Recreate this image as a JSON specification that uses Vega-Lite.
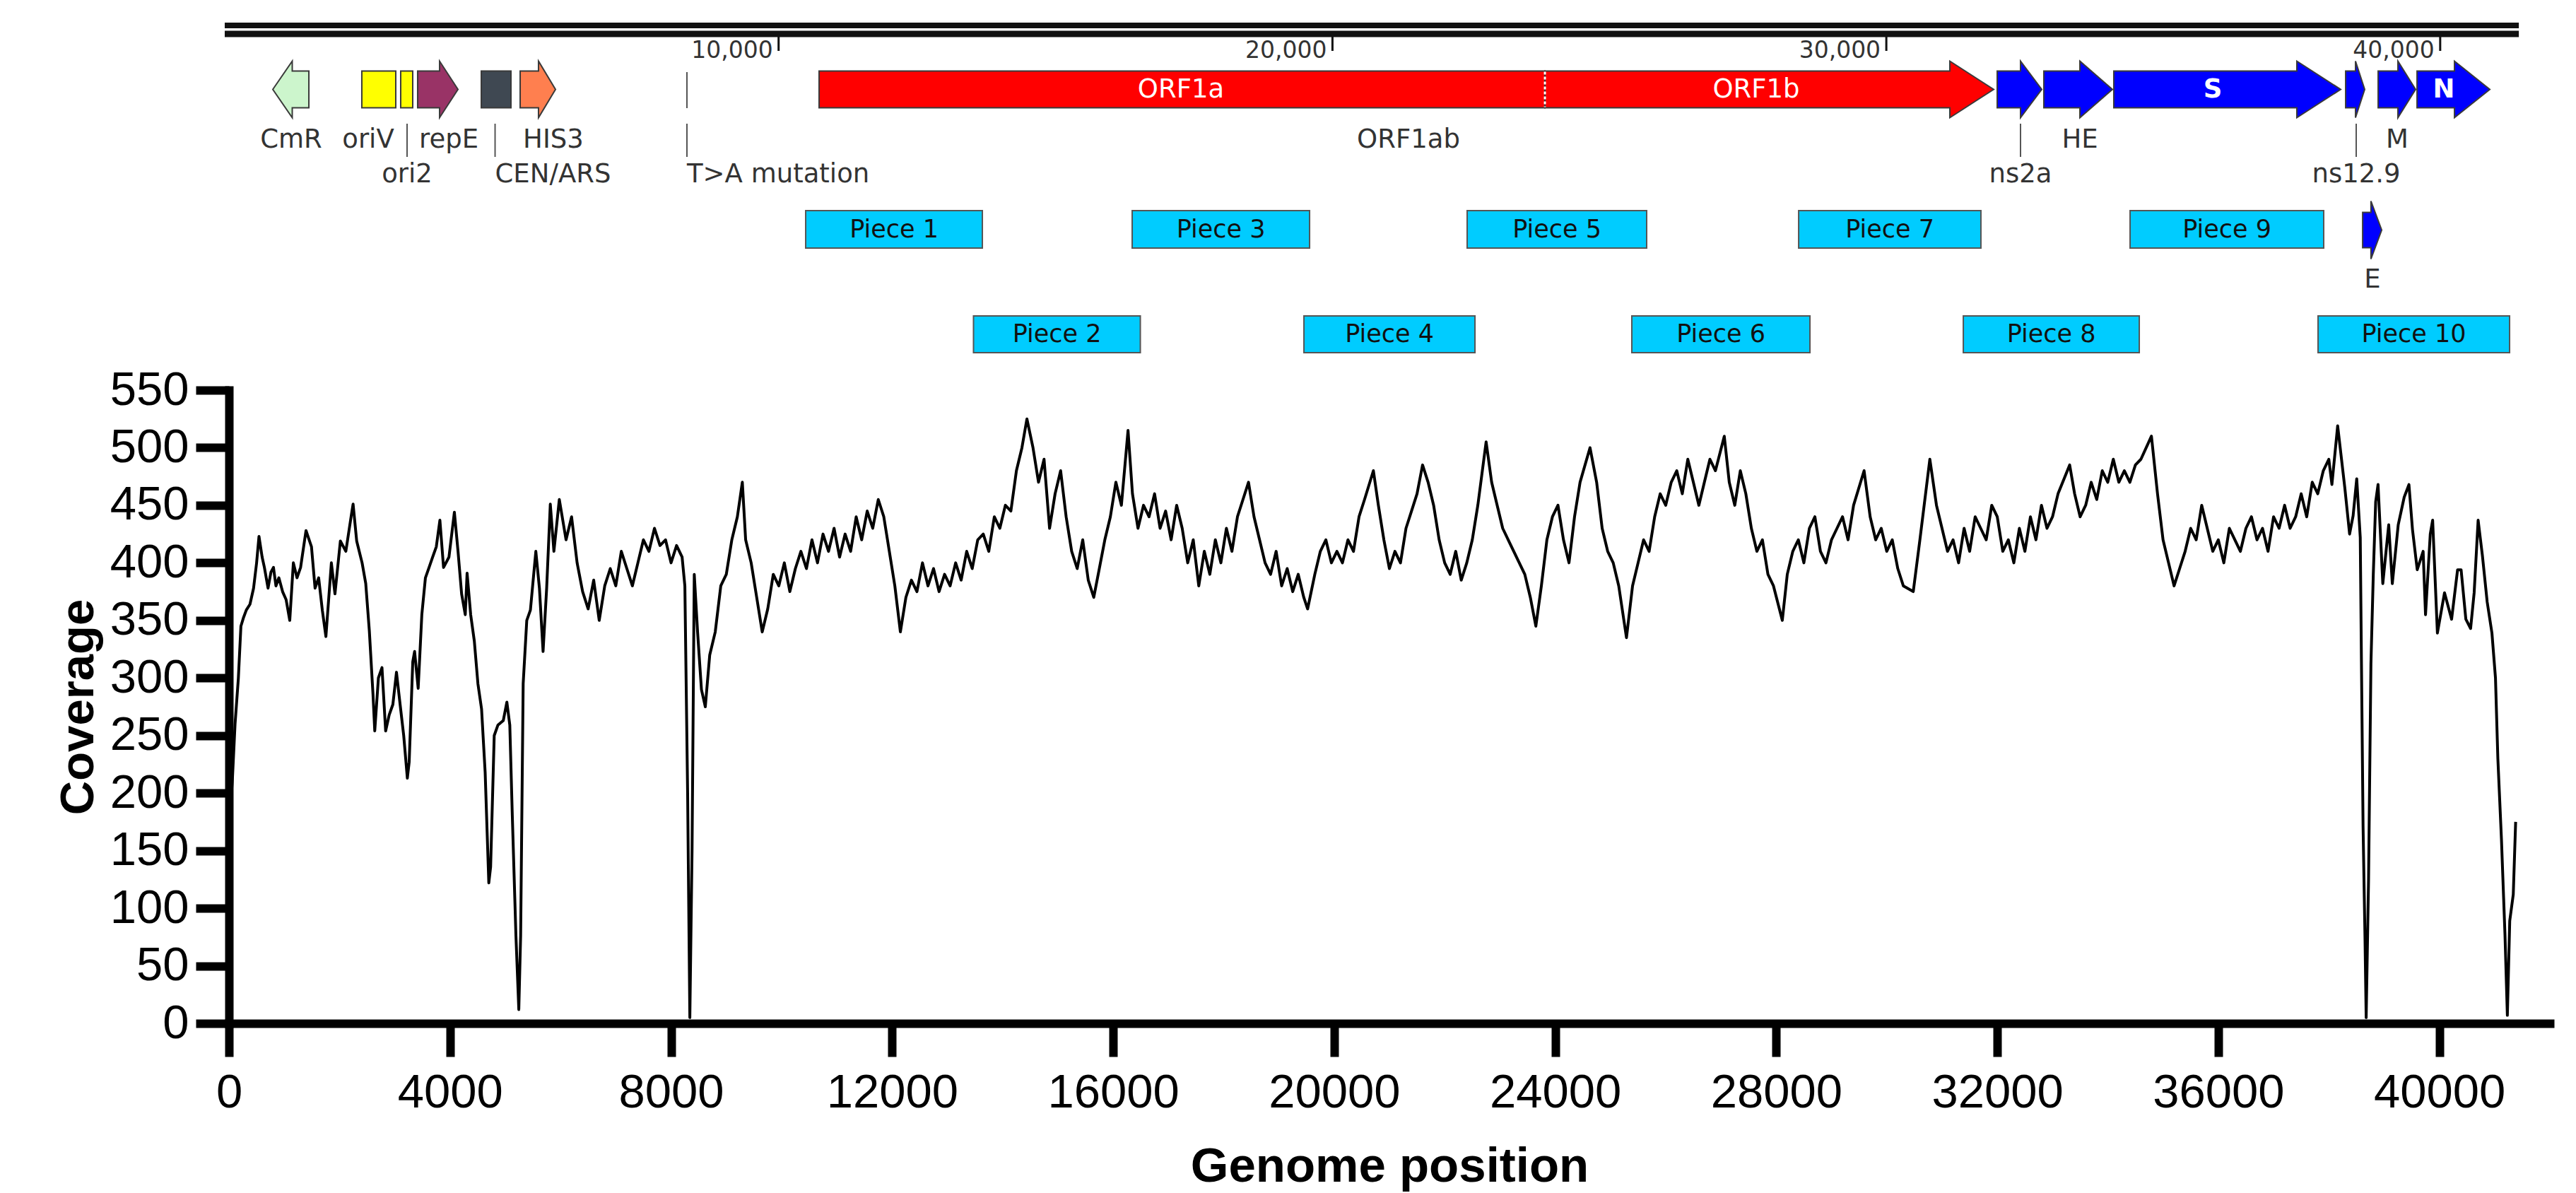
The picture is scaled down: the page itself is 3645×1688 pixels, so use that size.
{
  "$schema": "https://vega.github.io/schema/vega-lite/v6.json",
  "width": 3284,
  "height": 896,
  "autosize": {"type": "none"},
  "padding": {"left": 324, "top": 552, "right": 37, "bottom": 240},
  "background": "white",
  "config": {"view": {"stroke": null}, "font": "Liberation Sans"},
  "datasets": {
    "coverage": [
      {"position":0,"coverage":172},{"position":60,"coverage":210},{"position":110,"coverage":260},{"position":170,"coverage":300},{"position":216,"coverage":345},{"position":260,"coverage":352},{"position":314,"coverage":359},{"position":380,"coverage":364},{"position":445,"coverage":378},{"position":500,"coverage":400},{"position":543,"coverage":423},{"position":600,"coverage":405},{"position":641,"coverage":396},{"position":707,"coverage":378},{"position":760,"coverage":392},{"position":805,"coverage":396},{"position":850,"coverage":380},{"position":903,"coverage":387},{"position":970,"coverage":375},{"position":1034,"coverage":368},{"position":1100,"coverage":350},{"position":1165,"coverage":400},{"position":1231,"coverage":387},{"position":1296,"coverage":396},{"position":1394,"coverage":428},{"position":1493,"coverage":414},{"position":1558,"coverage":378},{"position":1623,"coverage":387},{"position":1689,"coverage":359},{"position":1754,"coverage":336},{"position":1853,"coverage":400},{"position":1918,"coverage":373},{"position":2016,"coverage":419},{"position":2115,"coverage":410},{"position":2213,"coverage":441},{"position":2246,"coverage":451},{"position":2311,"coverage":419},{"position":2409,"coverage":400},{"position":2475,"coverage":382},{"position":2540,"coverage":341},{"position":2606,"coverage":286},{"position":2638,"coverage":254},{"position":2704,"coverage":300},{"position":2769,"coverage":309},{"position":2835,"coverage":254},{"position":2900,"coverage":268},{"position":2966,"coverage":277},{"position":3031,"coverage":305},{"position":3097,"coverage":277},{"position":3162,"coverage":250},{"position":3228,"coverage":213},{"position":3261,"coverage":227},{"position":3326,"coverage":314},{"position":3359,"coverage":323},{"position":3424,"coverage":291},{"position":3490,"coverage":355},{"position":3555,"coverage":387},{"position":3621,"coverage":396},{"position":3686,"coverage":405},{"position":3752,"coverage":414},{"position":3817,"coverage":437},{"position":3883,"coverage":396},{"position":3981,"coverage":405},{"position":4079,"coverage":444},{"position":4145,"coverage":410},{"position":4210,"coverage":373},{"position":4276,"coverage":355},{"position":4309,"coverage":391},{"position":4374,"coverage":355},{"position":4440,"coverage":332},{"position":4505,"coverage":295},{"position":4571,"coverage":273},{"position":4636,"coverage":218},{"position":4702,"coverage":122},{"position":4735,"coverage":136},{"position":4800,"coverage":250},{"position":4866,"coverage":259},{"position":4964,"coverage":263},{"position":5029,"coverage":279},{"position":5082,"coverage":259},{"position":5127,"coverage":181},{"position":5193,"coverage":76},{"position":5245,"coverage":12},{"position":5278,"coverage":76},{"position":5324,"coverage":295},{"position":5389,"coverage":350},{"position":5455,"coverage":359},{"position":5553,"coverage":410},{"position":5618,"coverage":378},{"position":5684,"coverage":323},{"position":5749,"coverage":378},{"position":5815,"coverage":451},{"position":5880,"coverage":410},{"position":5978,"coverage":455},
      {"position":6100,"coverage":420},{"position":6200,"coverage":440},{"position":6300,"coverage":400},{"position":6400,"coverage":375},{"position":6500,"coverage":360},{"position":6600,"coverage":385},{"position":6700,"coverage":350},{"position":6800,"coverage":380},{"position":6900,"coverage":395},{"position":7000,"coverage":380},{"position":7100,"coverage":410},{"position":7200,"coverage":395},{"position":7300,"coverage":380},{"position":7400,"coverage":400},{"position":7500,"coverage":420},{"position":7600,"coverage":410},{"position":7700,"coverage":430},{"position":7800,"coverage":415},{"position":7900,"coverage":420},{"position":8000,"coverage":400},{"position":8100,"coverage":415},{"position":8200,"coverage":405},{"position":8250,"coverage":380},{"position":8300,"coverage":200},{"position":8340,"coverage":5},{"position":8380,"coverage":150},{"position":8420,"coverage":390},{"position":8480,"coverage":340},{"position":8550,"coverage":290},{"position":8620,"coverage":275},{"position":8700,"coverage":320},{"position":8800,"coverage":340},{"position":8900,"coverage":380},{"position":9000,"coverage":390},{"position":9100,"coverage":420},{"position":9200,"coverage":440},{"position":9290,"coverage":470},{"position":9350,"coverage":420},{"position":9450,"coverage":400},{"position":9550,"coverage":370},{"position":9650,"coverage":340},{"position":9750,"coverage":360},{"position":9850,"coverage":390},{"position":9950,"coverage":380},{"position":10050,"coverage":400},{"position":10150,"coverage":375},{"position":10250,"coverage":395},{"position":10350,"coverage":410},{"position":10450,"coverage":395},{"position":10550,"coverage":420},{"position":10650,"coverage":400},{"position":10750,"coverage":425},{"position":10850,"coverage":410},{"position":10950,"coverage":430},{"position":11050,"coverage":405},{"position":11150,"coverage":425},{"position":11250,"coverage":410},{"position":11350,"coverage":440},{"position":11450,"coverage":420},{"position":11550,"coverage":445},{"position":11650,"coverage":430},{"position":11750,"coverage":455},{"position":11850,"coverage":440},{"position":11950,"coverage":410},{"position":12050,"coverage":380},{"position":12150,"coverage":340},{"position":12250,"coverage":370},{"position":12350,"coverage":385},{"position":12450,"coverage":375},{"position":12550,"coverage":400},{"position":12650,"coverage":380},{"position":12750,"coverage":395},{"position":12850,"coverage":375},{"position":12950,"coverage":390},{"position":13050,"coverage":380},{"position":13150,"coverage":400},{"position":13250,"coverage":385},{"position":13350,"coverage":410},{"position":13450,"coverage":395},{"position":13550,"coverage":420},{"position":13650,"coverage":425},{"position":13750,"coverage":410},{"position":13850,"coverage":440},{"position":13950,"coverage":430},{"position":14050,"coverage":450},{"position":14150,"coverage":445},{"position":14250,"coverage":480},{"position":14350,"coverage":500},{"position":14440,"coverage":525},{"position":14550,"coverage":500},{"position":14650,"coverage":470},{"position":14750,"coverage":490},{"position":14850,"coverage":430},{"position":14950,"coverage":460},{"position":15050,"coverage":480},{"position":15150,"coverage":440},{"position":15250,"coverage":410},{"position":15350,"coverage":395},{"position":15450,"coverage":420},{"position":15550,"coverage":385},{"position":15650,"coverage":370},{"position":15750,"coverage":395},{"position":15850,"coverage":420},{"position":15950,"coverage":440},{"position":16050,"coverage":470},{"position":16150,"coverage":450},{"position":16270,"coverage":515},{"position":16350,"coverage":460},{"position":16450,"coverage":430},{"position":16550,"coverage":450},{"position":16650,"coverage":440},{"position":16750,"coverage":460},{"position":16850,"coverage":430},{"position":16950,"coverage":445},{"position":17050,"coverage":420},{"position":17150,"coverage":450},{"position":17250,"coverage":430},{"position":17350,"coverage":400},{"position":17450,"coverage":420},{"position":17550,"coverage":380},{"position":17650,"coverage":410},{"position":17750,"coverage":390},{"position":17850,"coverage":420},{"position":17950,"coverage":400},{"position":18050,"coverage":430},{"position":18150,"coverage":410},{"position":18250,"coverage":440},{"position":18350,"coverage":455},{"position":18450,"coverage":470},{"position":18550,"coverage":440},{"position":18650,"coverage":420},{"position":18750,"coverage":400},{"position":18850,"coverage":390},{"position":18950,"coverage":410},{"position":19050,"coverage":380},{"position":19150,"coverage":395},{"position":19250,"coverage":375},{"position":19350,"coverage":390},{"position":19450,"coverage":370},{"position":19520,"coverage":360},{"position":19650,"coverage":390},{"position":19750,"coverage":410},{"position":19850,"coverage":420},{"position":19950,"coverage":400},{"position":20050,"coverage":410},{"position":20150,"coverage":400},{"position":20250,"coverage":420},{"position":20350,"coverage":410},{"position":20450,"coverage":440},{"position":20550,"coverage":455},{"position":20710,"coverage":480},{"position":20800,"coverage":450},{"position":20900,"coverage":420},{"position":21000,"coverage":395},{"position":21100,"coverage":410},{"position":21200,"coverage":400},{"position":21300,"coverage":430},{"position":21400,"coverage":445},{"position":21500,"coverage":460},{"position":21600,"coverage":485},{"position":21700,"coverage":470},{"position":21800,"coverage":450},{"position":21900,"coverage":420},{"position":22000,"coverage":400},{"position":22100,"coverage":390},{"position":22200,"coverage":410},{"position":22300,"coverage":385},{"position":22400,"coverage":400},{"position":22500,"coverage":420},{"position":22600,"coverage":450},{"position":22750,"coverage":505},{"position":22850,"coverage":470},{"position":22950,"coverage":450},{"position":23050,"coverage":430},{"position":23150,"coverage":420},{"position":23250,"coverage":410},{"position":23350,"coverage":400},{"position":23450,"coverage":390},{"position":23550,"coverage":370},{"position":23650,"coverage":345},{"position":23750,"coverage":380},{"position":23850,"coverage":420},{"position":23950,"coverage":440},{"position":24050,"coverage":450},{"position":24150,"coverage":420},{"position":24250,"coverage":400},{"position":24350,"coverage":440},{"position":24450,"coverage":470},{"position":24630,"coverage":500},{"position":24750,"coverage":470},{"position":24850,"coverage":430},{"position":24950,"coverage":410},{"position":25050,"coverage":400},{"position":25150,"coverage":380},{"position":25290,"coverage":335},{"position":25400,"coverage":380},{"position":25500,"coverage":400},{"position":25600,"coverage":420},{"position":25700,"coverage":410},{"position":25800,"coverage":440},{"position":25900,"coverage":460},{"position":26000,"coverage":450},{"position":26100,"coverage":470},{"position":26200,"coverage":480},{"position":26300,"coverage":460},{"position":26400,"coverage":490},{"position":26500,"coverage":470},{"position":26600,"coverage":450},{"position":26700,"coverage":470},{"position":26800,"coverage":490},{"position":26900,"coverage":480},{"position":27060,"coverage":510},{"position":27150,"coverage":470},{"position":27250,"coverage":450},{"position":27350,"coverage":480},{"position":27450,"coverage":460},{"position":27550,"coverage":430},{"position":27650,"coverage":410},{"position":27750,"coverage":420},{"position":27850,"coverage":390},{"position":27950,"coverage":380},{"position":28110,"coverage":350},{"position":28200,"coverage":390},{"position":28300,"coverage":410},{"position":28400,"coverage":420},{"position":28500,"coverage":400},{"position":28600,"coverage":430},{"position":28700,"coverage":440},{"position":28800,"coverage":410},{"position":28900,"coverage":400},{"position":29000,"coverage":420},{"position":29100,"coverage":430},{"position":29200,"coverage":440},{"position":29300,"coverage":420},{"position":29400,"coverage":450},{"position":29590,"coverage":480},{"position":29700,"coverage":440},{"position":29800,"coverage":420},{"position":29900,"coverage":430},{"position":30000,"coverage":410},{"position":30100,"coverage":420},{"position":30200,"coverage":395},{"position":30300,"coverage":380},{"position":30480,"coverage":375},{"position":30600,"coverage":420},{"position":30780,"coverage":490},{"position":30900,"coverage":450},{"position":31000,"coverage":430},{"position":31100,"coverage":410},{"position":31200,"coverage":420},{"position":31300,"coverage":400},{"position":31400,"coverage":430},{"position":31500,"coverage":410},{"position":31600,"coverage":440},{"position":31700,"coverage":430},{"position":31800,"coverage":420},{"position":31900,"coverage":450},{"position":32000,"coverage":440},{"position":32100,"coverage":410},{"position":32200,"coverage":420},{"position":32300,"coverage":400},{"position":32400,"coverage":430},{"position":32500,"coverage":410},{"position":32600,"coverage":440},{"position":32700,"coverage":420},{"position":32800,"coverage":450},{"position":32900,"coverage":430},{"position":33000,"coverage":440},{"position":33100,"coverage":460},{"position":33310,"coverage":485},{"position":33400,"coverage":460},{"position":33500,"coverage":440},{"position":33600,"coverage":450},{"position":33700,"coverage":470},{"position":33800,"coverage":455},{"position":33900,"coverage":480},{"position":34000,"coverage":470},{"position":34100,"coverage":490},{"position":34200,"coverage":470},{"position":34300,"coverage":480},{"position":34400,"coverage":470},{"position":34500,"coverage":485},{"position":34600,"coverage":490},{"position":34790,"coverage":510},{"position":34900,"coverage":460},{"position":35000,"coverage":420},{"position":35100,"coverage":400},{"position":35200,"coverage":380},{"position":35300,"coverage":395},{"position":35400,"coverage":410},{"position":35500,"coverage":430},{"position":35600,"coverage":420},{"position":35700,"coverage":450},{"position":35800,"coverage":430},{"position":35900,"coverage":410},{"position":36000,"coverage":420},{"position":36100,"coverage":400},{"position":36200,"coverage":430},{"position":36300,"coverage":420},{"position":36400,"coverage":410},{"position":36500,"coverage":430},{"position":36600,"coverage":440},{"position":36700,"coverage":420},{"position":36800,"coverage":430},{"position":36900,"coverage":410},{"position":37000,"coverage":440},{"position":37100,"coverage":430},{"position":37200,"coverage":450},{"position":37300,"coverage":430},{"position":37400,"coverage":440},{"position":37500,"coverage":460},{"position":37600,"coverage":440},{"position":37700,"coverage":470},{"position":37800,"coverage":460},{"position":37900,"coverage":480},{"position":38000,"coverage":490},
      {"position":38056,"coverage":468},{"position":38160,"coverage":519},{"position":38225,"coverage":492},{"position":38290,"coverage":465},{"position":38376,"coverage":425},{"position":38440,"coverage":441},{"position":38505,"coverage":473},{"position":38569,"coverage":422},{"position":38590,"coverage":316},{"position":38620,"coverage":171},{"position":38655,"coverage":73},{"position":38676,"coverage":5},{"position":38719,"coverage":124},{"position":38762,"coverage":312},{"position":38805,"coverage":390},{"position":38848,"coverage":453},{"position":38891,"coverage":468},{"position":38934,"coverage":425},{"position":38977,"coverage":382},{"position":39084,"coverage":433},{"position":39149,"coverage":382},{"position":39256,"coverage":433},{"position":39364,"coverage":457},{"position":39450,"coverage":468},{"position":39514,"coverage":429},{"position":39600,"coverage":394},{"position":39707,"coverage":410},{"position":39750,"coverage":355},{"position":39836,"coverage":425},{"position":39879,"coverage":437},{"position":39965,"coverage":339},{"position":40094,"coverage":374},{"position":40222,"coverage":351},{"position":40330,"coverage":394},{"position":40394,"coverage":394},{"position":40480,"coverage":351},{"position":40566,"coverage":343},{"position":40630,"coverage":374},{"position":40702,"coverage":437},{"position":40780,"coverage":406},{"position":40866,"coverage":366},{"position":40952,"coverage":339},{"position":41016,"coverage":300},{"position":41059,"coverage":230},{"position":41124,"coverage":160},{"position":41188,"coverage":77},{"position":41231,"coverage":7},{"position":41274,"coverage":89},{"position":41338,"coverage":112},{"position":41381,"coverage":175}
    ],
    "genome": [{"start": 0, "end": 41420}],
    "ruler": [
      {"pos": 10000, "label": "10,000"},
      {"pos": 20000, "label": "20,000"},
      {"pos": 30000, "label": "30,000"},
      {"pos": 40000, "label": "40,000"}
    ],
    "shapes": [
      {"feature":"CmR","pos":868,"top":0,"bot":0},
      {"feature":"CmR","pos":1219,"top":4.0,"bot":-4.0},
      {"feature":"CmR","pos":1219,"top":2.6,"bot":-2.6},
      {"feature":"CmR","pos":1519,"top":2.6,"bot":-2.6},
      {"feature":"oriV","pos":2475,"top":2.6,"bot":-2.6},
      {"feature":"oriV","pos":3088,"top":2.6,"bot":-2.6},
      {"feature":"ori2","pos":3177,"top":2.6,"bot":-2.6},
      {"feature":"ori2","pos":3394,"top":2.6,"bot":-2.6},
      {"feature":"repE","pos":3483,"top":2.6,"bot":-2.6},
      {"feature":"repE","pos":3879,"top":2.6,"bot":-2.6},
      {"feature":"repE","pos":3879,"top":4.0,"bot":-4.0},
      {"feature":"repE","pos":4211,"top":0,"bot":0},
      {"feature":"CEN/ARS","pos":4632,"top":2.6,"bot":-2.6},
      {"feature":"CEN/ARS","pos":5168,"top":2.6,"bot":-2.6},
      {"feature":"HIS3","pos":5334,"top":2.6,"bot":-2.6},
      {"feature":"HIS3","pos":5665,"top":2.6,"bot":-2.6},
      {"feature":"HIS3","pos":5665,"top":4.0,"bot":-4.0},
      {"feature":"HIS3","pos":5972,"top":0,"bot":0},
      {"feature":"ORF1a","pos":10731,"top":2.6,"bot":-2.6},
      {"feature":"ORF1a","pos":23836,"top":2.6,"bot":-2.6},
      {"feature":"ORF1b","pos":23836,"top":2.6,"bot":-2.6},
      {"feature":"ORF1b","pos":31147,"top":2.6,"bot":-2.6},
      {"feature":"ORF1b","pos":31147,"top":4.0,"bot":-4.0},
      {"feature":"ORF1b","pos":31938,"top":0,"bot":0},
      {"feature":"ns2a","pos":32002,"top":2.6,"bot":-2.6},
      {"feature":"ns2a","pos":32423,"top":2.6,"bot":-2.6},
      {"feature":"ns2a","pos":32423,"top":4.0,"bot":-4.0},
      {"feature":"ns2a","pos":32806,"top":0,"bot":0},
      {"feature":"HE","pos":32844,"top":2.6,"bot":-2.6},
      {"feature":"HE","pos":33495,"top":2.6,"bot":-2.6},
      {"feature":"HE","pos":33495,"top":4.0,"bot":-4.0},
      {"feature":"HE","pos":34082,"top":0,"bot":0},
      {"feature":"S","pos":34107,"top":2.6,"bot":-2.6},
      {"feature":"S","pos":37412,"top":2.6,"bot":-2.6},
      {"feature":"S","pos":37412,"top":4.0,"bot":-4.0},
      {"feature":"S","pos":38203,"top":0,"bot":0},
      {"feature":"ns12.9","pos":38293,"top":2.6,"bot":-2.6},
      {"feature":"ns12.9","pos":38471,"top":2.6,"bot":-2.6},
      {"feature":"ns12.9","pos":38471,"top":4.0,"bot":-4.0},
      {"feature":"ns12.9","pos":38637,"top":0,"bot":0},
      {"feature":"M","pos":38880,"top":2.6,"bot":-2.6},
      {"feature":"M","pos":39237,"top":2.6,"bot":-2.6},
      {"feature":"M","pos":39237,"top":4.0,"bot":-4.0},
      {"feature":"M","pos":39556,"top":0,"bot":0},
      {"feature":"N","pos":39582,"top":2.6,"bot":-2.6},
      {"feature":"N","pos":40258,"top":2.6,"bot":-2.6},
      {"feature":"N","pos":40258,"top":4.0,"bot":-4.0},
      {"feature":"N","pos":40896,"top":0,"bot":0},
      {"feature":"E","pos":38600,"top":-17.4,"bot":-22.4},
      {"feature":"E","pos":38750,"top":-17.4,"bot":-22.4},
      {"feature":"E","pos":38750,"top":-15.8,"bot":-24.0},
      {"feature":"E","pos":38944,"top":-19.9,"bot":-19.9}
    ],
    "labels": [
      {"label":"CmR","pos":1199,"row":"upper"},
      {"label":"oriV","pos":2590,"row":"upper"},
      {"label":"repE","pos":4045,"row":"upper"},
      {"label":"HIS3","pos":5933,"row":"upper"},
      {"label":"ORF1ab","pos":21373,"row":"upper"},
      {"label":"HE","pos":33495,"row":"upper"},
      {"label":"M","pos":39224,"row":"upper"},
      {"label":"ori2","pos":3292,"row":"lower"},
      {"label":"CEN/ARS","pos":4881,"row":"lower"},
      {"label":"T>A mutation","pos":8345,"row":"lower"},
      {"label":"ns2a","pos":32423,"row":"lower"},
      {"label":"ns12.9","pos":38484,"row":"lower"},
      {"label":"ORF1a","pos":17264,"row":"inside"},
      {"label":"ORF1b","pos":27651,"row":"inside"},
      {"label":"S","pos":35894,"row":"inside"},
      {"label":"N","pos":40066,"row":"inside"},
      {"label":"E","pos":38778,"row":"pieces"}
    ],
    "pieces": [
      {"piece":"Piece 1","start":10489,"end":13679,"row":1},
      {"piece":"Piece 2","start":13519,"end":16531,"row":2},
      {"piece":"Piece 3","start":16384,"end":19587,"row":1},
      {"piece":"Piece 4","start":19485,"end":22573,"row":2},
      {"piece":"Piece 5","start":22432,"end":25673,"row":1},
      {"piece":"Piece 6","start":25405,"end":28621,"row":2},
      {"piece":"Piece 7","start":28417,"end":31708,"row":1},
      {"piece":"Piece 8","start":31390,"end":34567,"row":2},
      {"piece":"Piece 9","start":34401,"end":37897,"row":1},
      {"piece":"Piece 10","start":37795,"end":41253,"row":2}
    ]
  },
  "layer": [
    {
      "data": {"name": "coverage"},
      "mark": {"type": "line", "color": "#000000", "strokeWidth": 4, "strokeJoin": "round"},
      "encoding": {
        "x": {
          "field": "position", "type": "quantitative",
          "scale": {"domain": [0, 42000], "nice": false, "zero": false},
          "axis": {
            "values": [0,4000,8000,12000,16000,20000,24000,28000,32000,36000,40000],
            "format": "d", "grid": false,
            "labelFont": "Liberation Sans", "labelFontSize": 67, "labelColor": "#000000", "labelLimit": 0,
            "labelPadding": 18, "labelFlush": false, "labelOverlap": false, "labelBound": false,
            "tickSize": 47, "tickWidth": 12, "tickColor": "#000000", "tickCap": "butt",
            "domainColor": "#000000", "domainWidth": 12, "domainCap": "square",
            "title": "Genome position", "titleFont": "Liberation Sans", "titleFontSize": 69,
            "titleFontWeight": "bold", "titleColor": "#000000", "titlePadding": 37
          }
        },
        "y": {
          "field": "coverage", "type": "quantitative",
          "scale": {"domain": [0, 550], "nice": false},
          "axis": {
            "values": [0,50,100,150,200,250,300,350,400,450,500,550],
            "grid": false,
            "labelFont": "Liberation Sans", "labelFontSize": 67, "labelColor": "#000000", "labelLimit": 0,
            "labelPadding": 10, "labelFlush": false, "labelOverlap": false, "labelBound": false,
            "tickSize": 47, "tickWidth": 12, "tickColor": "#000000", "tickCap": "butt",
            "domainColor": "#000000", "domainWidth": 12, "domainCap": "square",
            "title": "Coverage", "titleFont": "Liberation Sans", "titleFontSize": 67,
            "titleFontWeight": "bold", "titleColor": "#000000", "titlePadding": 10
          }
        }
      }
    },
    {
      "layer": [
        {
          "data": {"name": "genome"},
          "mark": {"type": "rule", "color": "#111111", "strokeWidth": 8},
          "encoding": {
            "x": {"field": "start", "type": "quantitative", "scale": {"domain": [76.6, 41980], "nice": false, "zero": false}, "axis": null},
            "x2": {"field": "end"},
            "y": {"datum": 9.05, "type": "quantitative", "scale": {"domain": [-132.15, -42.55], "nice": false, "zero": false}, "axis": null}
          }
        },
        {
          "data": {"name": "genome"},
          "mark": {"type": "rule", "color": "#111111", "strokeWidth": 9},
          "encoding": {
            "x": {"field": "start", "type": "quantitative", "scale": {"domain": [76.6, 41980], "nice": false, "zero": false}, "axis": null},
            "x2": {"field": "end"},
            "y": {"datum": 7.85, "type": "quantitative", "scale": {"domain": [-132.15, -42.55], "nice": false, "zero": false}, "axis": null}
          }
        },
        {
          "data": {"name": "ruler"},
          "mark": {"type": "rule", "color": "#111111", "strokeWidth": 3},
          "encoding": {
            "x": {"field": "pos", "type": "quantitative", "scale": {"domain": [76.6, 41980], "nice": false, "zero": false}, "axis": null},
            "y": {"datum": 7.45, "type": "quantitative", "scale": {"domain": [-132.15, -42.55], "nice": false, "zero": false}, "axis": null},
            "y2": {"datum": 5.45}
          }
        },
        {
          "data": {"name": "ruler"},
          "mark": {"type": "text", "font": "DejaVu Sans", "fontSize": 33, "color": "#333333", "align": "right", "baseline": "alphabetic", "dx": -8},
          "encoding": {
            "x": {"field": "pos", "type": "quantitative", "scale": {"domain": [76.6, 41980], "nice": false, "zero": false}, "axis": null},
            "y": {"datum": 4.45, "type": "quantitative", "scale": {"domain": [-132.15, -42.55], "nice": false, "zero": false}, "axis": null},
            "text": {"field": "label"}
          }
        },
        {
          "data": {"name": "shapes"},
          "mark": {"type": "area", "stroke": "#3a3a3a", "strokeWidth": 2, "fillOpacity": 1, "interpolate": "linear"},
          "encoding": {
            "x": {"field": "pos", "type": "quantitative", "scale": {"domain": [76.6, 41980], "nice": false, "zero": false}, "axis": null},
            "y": {"field": "top", "type": "quantitative", "stack": null, "scale": {"domain": [-132.15, -42.55], "nice": false, "zero": false}, "axis": null},
            "y2": {"field": "bot"},
            "color": {
              "field": "feature", "type": "nominal", "legend": null,
              "scale": {
                "domain": ["CmR","oriV","ori2","repE","CEN/ARS","HIS3","ORF1a","ORF1b","ns2a","HE","S","ns12.9","M","N","E"],
                "range": ["#ccf5cc","#ffff00","#ffff00","#993366","#3f4852","#ff7f4f","#ff0000","#ff0000","#0000ff","#0000ff","#0000ff","#0000ff","#0000ff","#0000ff","#0000ff"]
              }
            }
          }
        },
        {
          "data": {"values": [{"pos": 23836}]},
          "mark": {"type": "rule", "color": "#ffffff", "strokeWidth": 3, "strokeDash": [4, 3]},
          "encoding": {
            "x": {"field": "pos", "type": "quantitative", "scale": {"domain": [76.6, 41980], "nice": false, "zero": false}, "axis": null},
            "y": {"datum": 2.5, "type": "quantitative", "scale": {"domain": [-132.15, -42.55], "nice": false, "zero": false}, "axis": null},
            "y2": {"datum": -2.5}
          }
        },
        {
          "data": {"name": "labels"},
          "transform": [{"filter": "datum.row === 'inside' && (datum.label === 'ORF1a' || datum.label === 'ORF1b')"}],
          "mark": {"type": "text", "font": "DejaVu Sans", "fontSize": 37, "color": "#ffffff", "align": "center", "baseline": "middle"},
          "encoding": {
            "x": {"field": "pos", "type": "quantitative", "scale": {"domain": [76.6, 41980], "nice": false, "zero": false}, "axis": null},
            "y": {"datum": 0, "type": "quantitative", "scale": {"domain": [-132.15, -42.55], "nice": false, "zero": false}, "axis": null},
            "text": {"field": "label"}
          }
        },
        {
          "data": {"name": "labels"},
          "transform": [{"filter": "datum.row === 'inside' && (datum.label === 'S' || datum.label === 'N')"}],
          "mark": {"type": "text", "font": "DejaVu Sans", "fontSize": 37, "fontWeight": "bold", "color": "#ffffff", "align": "center", "baseline": "middle"},
          "encoding": {
            "x": {"field": "pos", "type": "quantitative", "scale": {"domain": [76.6, 41980], "nice": false, "zero": false}, "axis": null},
            "y": {"datum": 0, "type": "quantitative", "scale": {"domain": [-132.15, -42.55], "nice": false, "zero": false}, "axis": null},
            "text": {"field": "label"}
          }
        },
        {
          "data": {"name": "labels"},
          "transform": [{"filter": "datum.row === 'upper'"}],
          "mark": {"type": "text", "font": "DejaVu Sans", "fontSize": 37, "color": "#333333", "align": "center", "baseline": "middle"},
          "encoding": {
            "x": {"field": "pos", "type": "quantitative", "scale": {"domain": [76.6, 41980], "nice": false, "zero": false}, "axis": null},
            "y": {"datum": -7.15, "type": "quantitative", "scale": {"domain": [-132.15, -42.55], "nice": false, "zero": false}, "axis": null},
            "text": {"field": "label"}
          }
        },
        {
          "data": {"name": "labels"},
          "transform": [{"filter": "datum.row === 'lower' && datum.label !== 'CEN/ARS' && datum.label !== 'T>A mutation'"}],
          "mark": {"type": "text", "font": "DejaVu Sans", "fontSize": 37, "color": "#333333", "align": "center", "baseline": "middle"},
          "encoding": {
            "x": {"field": "pos", "type": "quantitative", "scale": {"domain": [76.6, 41980], "nice": false, "zero": false}, "axis": null},
            "y": {"datum": -12.05, "type": "quantitative", "scale": {"domain": [-132.15, -42.55], "nice": false, "zero": false}, "axis": null},
            "text": {"field": "label"}
          }
        },
        {
          "data": {"name": "labels"},
          "transform": [{"filter": "datum.label === 'CEN/ARS' || datum.label === 'T>A mutation'"}],
          "mark": {"type": "text", "font": "DejaVu Sans", "fontSize": 37, "color": "#333333", "align": "left", "baseline": "middle"},
          "encoding": {
            "x": {"field": "pos", "type": "quantitative", "scale": {"domain": [76.6, 41980], "nice": false, "zero": false}, "axis": null},
            "y": {"datum": -12.05, "type": "quantitative", "scale": {"domain": [-132.15, -42.55], "nice": false, "zero": false}, "axis": null},
            "text": {"field": "label"}
          }
        },
        {
          "data": {"name": "labels"},
          "transform": [{"filter": "datum.row === 'lower'"}],
          "mark": {"type": "rule", "color": "#555555", "strokeWidth": 2},
          "encoding": {
            "x": {"field": "pos", "type": "quantitative", "scale": {"domain": [76.6, 41980], "nice": false, "zero": false}, "axis": null},
            "y": {"datum": -4.85, "type": "quantitative", "scale": {"domain": [-132.15, -42.55], "nice": false, "zero": false}, "axis": null},
            "y2": {"datum": -9.55}
          }
        },
        {
          "data": {"name": "labels"},
          "transform": [{"filter": "datum.label === 'T>A mutation'"}],
          "mark": {"type": "rule", "color": "#555555", "strokeWidth": 2},
          "encoding": {
            "x": {"field": "pos", "type": "quantitative", "scale": {"domain": [76.6, 41980], "nice": false, "zero": false}, "axis": null},
            "y": {"datum": 2.45, "type": "quantitative", "scale": {"domain": [-132.15, -42.55], "nice": false, "zero": false}, "axis": null},
            "y2": {"datum": -2.65}
          }
        },
        {
          "data": {"name": "pieces"},
          "transform": [{"filter": "datum.row === 1"}],
          "mark": {"type": "rect", "color": "#00ccff", "stroke": "#555555", "strokeWidth": 2},
          "encoding": {
            "x": {"field": "start", "type": "quantitative", "scale": {"domain": [76.6, 41980], "nice": false, "zero": false}, "axis": null},
            "x2": {"field": "end"},
            "y": {"datum": -17.15, "type": "quantitative", "scale": {"domain": [-132.15, -42.55], "nice": false, "zero": false}, "axis": null},
            "y2": {"datum": -22.45}
          }
        },
        {
          "data": {"name": "pieces"},
          "transform": [{"filter": "datum.row === 2"}],
          "mark": {"type": "rect", "color": "#00ccff", "stroke": "#555555", "strokeWidth": 2},
          "encoding": {
            "x": {"field": "start", "type": "quantitative", "scale": {"domain": [76.6, 41980], "nice": false, "zero": false}, "axis": null},
            "x2": {"field": "end"},
            "y": {"datum": -32.05, "type": "quantitative", "scale": {"domain": [-132.15, -42.55], "nice": false, "zero": false}, "axis": null},
            "y2": {"datum": -37.25}
          }
        },
        {
          "data": {"name": "pieces"},
          "transform": [
            {"filter": "datum.row === 1"},
            {"fold": ["start", "end"], "as": ["edge", "bound"]},
            {"aggregate": [{"op": "mean", "field": "bound", "as": "center"}], "groupby": ["piece"]}
          ],
          "mark": {"type": "text", "font": "DejaVu Sans", "fontSize": 35, "color": "#111111", "align": "center", "baseline": "middle"},
          "encoding": {
            "x": {"field": "center", "type": "quantitative", "scale": {"domain": [76.6, 41980], "nice": false, "zero": false}, "axis": null},
            "y": {"datum": -19.8, "type": "quantitative", "scale": {"domain": [-132.15, -42.55], "nice": false, "zero": false}, "axis": null},
            "text": {"field": "piece"}
          }
        },
        {
          "data": {"name": "pieces"},
          "transform": [
            {"filter": "datum.row === 2"},
            {"fold": ["start", "end"], "as": ["edge", "bound"]},
            {"aggregate": [{"op": "mean", "field": "bound", "as": "center"}], "groupby": ["piece"]}
          ],
          "mark": {"type": "text", "font": "DejaVu Sans", "fontSize": 35, "color": "#111111", "align": "center", "baseline": "middle"},
          "encoding": {
            "x": {"field": "center", "type": "quantitative", "scale": {"domain": [76.6, 41980], "nice": false, "zero": false}, "axis": null},
            "y": {"datum": -34.65, "type": "quantitative", "scale": {"domain": [-132.15, -42.55], "nice": false, "zero": false}, "axis": null},
            "text": {"field": "piece"}
          }
        },
        {
          "data": {"name": "labels"},
          "transform": [{"filter": "datum.row === 'pieces'"}],
          "mark": {"type": "text", "font": "DejaVu Sans", "fontSize": 37, "color": "#333333", "align": "center", "baseline": "middle"},
          "encoding": {
            "x": {"field": "pos", "type": "quantitative", "scale": {"domain": [76.6, 41980], "nice": false, "zero": false}, "axis": null},
            "y": {"datum": -26.9, "type": "quantitative", "scale": {"domain": [-132.15, -42.55], "nice": false, "zero": false}, "axis": null},
            "text": {"field": "label"}
          }
        }
      ]
    }
  ],
  "resolve": {"scale": {"x": "independent", "y": "independent"}}
}
